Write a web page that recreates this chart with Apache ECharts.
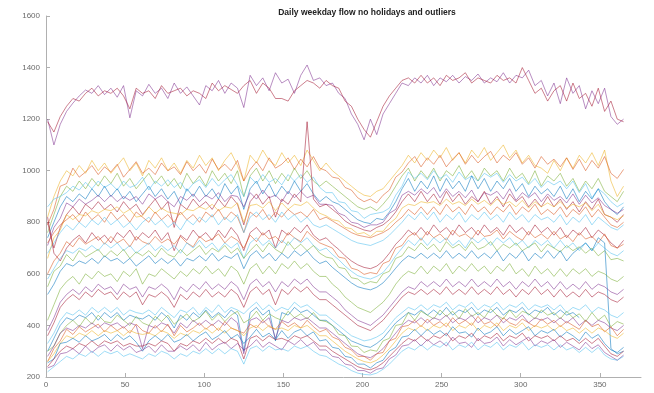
<!DOCTYPE html>
<html>
<head>
<meta charset="utf-8">
<script src="https://cdn.jsdelivr.net/npm/echarts@6/dist/echarts.min.js"></script>
<style>
  html, body { margin: 0; padding: 0; background: #fff; }
  #chart { width: 654px; height: 393px; }
</style>
</head>
<body>
<div id="chart"></div>
<script>
// Day of year for each sample
const days = [1,5,9,13,17,21,25,29,33,37,41,45,49,53,57,61,65,69,73,77,81,85,89,93,97,101,105,109,113,117,121,125,129,133,137,141,145,149,153,157,161,165,169,173,177,181,185,189,193,197,201,205,209,213,217,221,225,229,233,237,241,245,249,253,257,261,265,269,273,277,281,285,289,293,297,301,305,309,313,317,321,325,329,333,337,341,345,349,353,357,361,365];

const xTicks = [0, 50, 100, 150, 200, 250, 300, 350];
const yTicks = [200, 400, 600, 800, 1000, 1200, 1400, 1600];

// Busiest station pair
const topA = [
  1200,1100,1180,1230,1262,1290,1313,1300,1330,1295,
  1320,1285,1330,1205,1310,1290,1335,1300,1320,1280,
  1340,1300,1325,1290,1255,1330,1310,1350,1300,1340,
  1320,1245,1370,1330,1360,1310,1380,1340,1355,1300,
  1370,1410,1350,1360,1330,1340,1300,1280,1220,1180,
  1120,1200,1140,1220,1260,1300,1340,1330,1360,1340,
  1370,1330,1360,1345,1370,1340,1365,1350,1375,1340,
  1360,1345,1380,1340,1370,1360,1390,1330,1350,1290,
  1340,1260,1360,1300,1330,1240,1310,1260,1320,1210,
  1180,1200];
const topB = [
  1190,1150,1210,1250,1280,1270,1300,1320,1290,1310,
  1300,1320,1290,1240,1320,1300,1310,1280,1330,1300,
  1310,1320,1290,1310,1300,1280,1340,1310,1330,1315,
  1300,1330,1350,1300,1340,1320,1280,1280,1270,1310,
  1330,1350,1340,1320,1350,1330,1320,1270,1250,1200,
  1160,1130,1190,1250,1290,1320,1350,1360,1340,1370,
  1340,1360,1330,1370,1350,1360,1380,1340,1360,1350,
  1340,1370,1350,1360,1340,1400,1350,1300,1320,1270,
  1310,1330,1270,1340,1280,1300,1250,1320,1230,1270,
  1200,1190];

// Upper group
const u1 = [
  820,900,960,1000,980,1020,990,1040,1000,1030,
  990,1020,1050,1000,1030,980,1040,1010,1050,1000,
  1030,990,1040,1010,1060,1020,1050,1000,1040,1070,
  1020,960,1060,1030,1080,1040,1020,1070,1030,1060,
  1020,1080,1040,1000,1030,1000,980,960,940,920,
  905,900,920,930,960,990,1020,1060,1030,1070,
  1040,1080,1050,1090,1040,1070,1030,1080,1050,1090,
  1040,1070,1100,1050,1080,1030,1060,1020,1010,990,
  1040,1000,1050,1010,1060,1030,1070,1020,1080,960,
  900,940];
const u2 = [
  790,850,940,950,1010,975,995,1020,985,1015,
  995,1025,975,1005,1035,990,1010,985,1030,1000,
  1015,985,1035,1000,1025,990,1045,1005,1025,1000,
  1040,960,1005,1035,1000,1050,1010,1025,1050,1005,
  1045,1015,1055,1010,1000,975,970,935,925,895,
  880,890,875,905,925,975,995,1030,1055,1015,
  1050,1025,1060,1015,1045,1070,1025,1060,1030,1055,
  1075,1030,1060,1040,1070,1025,1050,1010,1055,1025,
  1045,1015,1050,1005,1045,1000,1040,1010,1055,990,
  970,1005];
const u3 = [
  760,830,900,940,920,960,930,970,940,980,
  950,990,940,970,930,960,990,950,980,940,
  970,930,990,950,980,940,1000,960,990,950,
  1000,900,980,1010,960,1000,950,990,960,1010,
  970,1000,960,940,960,940,920,900,880,860,
  850,860,845,870,900,940,980,1010,960,1000,
  970,1010,960,1000,980,1020,970,1000,960,1010,
  980,1000,960,1010,970,990,950,1000,940,980,
  960,990,940,970,920,960,930,970,920,900,
  880,920];
const u4 = [
  860,890,900,915,940,925,955,930,960,935,
  950,925,960,935,945,975,925,960,940,965,
  935,955,920,950,965,935,970,940,965,985,
  945,900,975,950,985,955,970,945,985,960,
  985,955,975,935,915,915,880,875,845,840,
  815,830,835,840,855,905,940,995,970,990,
  965,1000,970,985,955,995,965,980,960,990,
  975,990,955,985,960,975,945,970,935,960,
  945,960,930,960,915,950,895,930,910,880,
  860,875];
const u5 = [
  740,800,860,900,880,910,890,930,900,940,
  900,930,890,920,880,910,940,900,930,890,
  920,870,930,900,940,900,930,890,950,910,
  940,850,930,960,910,950,900,940,910,960,
  920,950,910,880,900,880,870,850,830,810,
  800,795,815,810,840,880,930,970,920,960,
  930,980,920,970,930,960,920,980,930,970,
  920,960,930,970,920,950,900,940,910,930,
  900,940,890,930,880,920,890,930,880,850,
  830,860];
const u6 = [
  710,780,815,875,860,890,870,885,905,880,
  905,880,900,885,900,870,910,890,905,880,
  860,900,885,910,880,905,890,915,880,905,
  900,860,915,890,925,895,905,880,920,895,
  920,895,905,870,870,865,835,825,800,795,
  780,790,790,800,835,850,905,920,905,930,
  910,935,895,930,900,920,895,925,880,915,
  905,920,890,930,885,915,895,915,880,910,
  885,900,875,910,870,905,875,895,865,850,
  835,850];
const u7 = [
  800,700,780,830,860,830,870,850,880,850,
  870,840,880,850,870,830,860,890,850,880,
  780,870,850,890,860,880,850,890,860,900,
  870,790,880,910,870,900,820,890,870,910,
  880,1190,890,860,870,850,830,805,790,780,
  770,765,780,790,810,840,880,910,880,920,
  880,910,870,920,880,910,870,900,880,920,
  870,900,860,910,880,900,860,890,860,900,
  860,890,850,880,840,880,850,890,830,820,
  800,830];
const u8 = [
  660,740,770,830,810,830,825,845,835,850,
  845,860,835,850,820,825,860,835,855,840,
  835,830,850,845,860,850,870,845,860,855,
  875,800,865,870,855,880,845,875,850,870,
  865,880,855,835,825,810,805,780,775,755,
  760,745,765,765,795,815,855,870,865,880,
  875,880,865,890,870,880,865,890,870,885,
  865,890,870,880,860,885,855,880,860,875,
  860,880,855,870,860,875,845,870,830,820,
  810,825];
const u9 = [
  720,760,790,810,830,800,840,810,830,800,
  840,810,830,800,840,820,800,840,810,830,
  800,840,810,830,800,840,820,850,810,840,
  820,760,840,820,850,810,840,820,850,830,
  840,820,850,810,820,805,790,775,760,750,
  745,740,750,760,775,800,820,850,830,860,
  830,860,830,870,840,860,830,870,840,860,
  830,860,840,870,830,860,840,870,830,850,
  830,860,820,850,830,860,820,850,820,790,
  780,800];
const u10 = [
  680,720,760,790,770,800,780,810,790,820,
  790,810,780,800,770,800,820,790,810,780,
  800,770,810,790,820,800,830,790,820,800,
  830,760,820,840,810,830,800,840,810,830,
  800,820,790,780,790,775,760,745,730,720,
  715,710,720,730,750,775,800,830,810,840,
  810,840,800,830,810,840,800,830,810,840,
  810,830,800,840,810,830,800,830,810,820,
  800,830,790,820,800,830,790,820,800,780,
  770,790];

// Middle group
const m1 = [
  820,680,650,700,730,750,720,760,730,750,
  720,760,740,770,730,760,740,770,730,760,
  690,750,730,770,740,760,730,770,740,780,
  750,690,760,780,750,770,700,770,750,780,
  760,790,750,730,740,715,695,670,650,635,
  625,620,630,650,680,715,740,770,750,780,
  750,790,760,780,750,790,760,780,750,790,
  760,780,750,790,760,780,750,790,760,780,
  750,780,740,770,750,780,740,770,750,720,
  700,730];
const m2 = [
  600,650,680,725,705,740,715,730,745,715,
  745,720,735,705,745,725,715,745,720,735,
  715,745,720,705,745,725,735,755,720,745,
  730,700,750,725,760,735,745,720,760,740,
  725,765,740,720,710,700,665,660,622,615,
  598,605,600,640,650,700,710,745,760,730,
  765,740,755,730,770,745,755,735,770,745,
  750,770,735,765,745,730,765,740,755,735,
  765,735,750,725,760,735,745,720,755,710,
  700,715];
const m3 = [
  580,620,660,690,680,700,690,710,690,720,
  700,720,690,710,680,700,720,690,710,690,
  710,680,720,700,730,700,720,690,720,700,
  720,660,720,740,710,730,700,730,710,740,
  720,740,710,690,700,675,655,630,610,593,
  585,580,590,605,635,670,700,730,710,740,
  710,740,720,740,710,730,700,740,720,740,
  710,740,720,740,710,730,700,730,710,730,
  700,730,700,720,690,720,690,720,700,680,
  670,690];
const m4 = [
  550,610,630,675,650,690,665,680,695,665,
  690,670,695,660,685,670,690,665,700,675,
  665,695,670,690,710,675,700,685,710,680,
  700,660,690,715,685,720,695,680,725,695,
  715,690,710,680,665,660,625,620,585,580,
  560,570,565,600,610,660,670,705,690,720,
  695,715,685,725,700,715,690,725,695,705,
  725,690,715,700,720,690,705,720,685,715,
  700,685,710,690,705,680,700,670,690,655,
  660,650];
const m5 = [
  520,560,610,640,630,650,640,660,640,670,
  650,660,640,660,630,650,670,640,660,640,
  660,630,660,650,670,650,680,650,670,660,
  680,620,670,690,660,680,650,680,660,690,
  670,690,660,640,650,625,605,585,565,550,
  543,538,548,565,592,622,650,670,660,680,
  660,680,660,690,660,680,660,690,660,680,
  660,690,650,680,660,690,650,680,660,690,
  660,690,650,680,700,720,690,740,720,310,
  290,300];

// Lower-middle group
const l1 = [
  420,480,540,570,590,560,600,580,610,590,
  600,570,610,590,620,560,600,590,620,600,
  580,610,590,620,600,630,600,620,590,630,
  610,560,620,640,600,630,600,640,620,650,
  620,640,610,590,590,560,540,510,490,470,
  460,450,470,490,520,560,590,610,600,630,
  600,630,610,640,600,630,610,640,610,630,
  600,630,610,640,600,620,590,630,600,620,
  590,620,590,620,600,620,590,610,600,580,
  570,590];
const l2 = [
  380,430,490,520,540,520,550,530,560,540,
  550,520,560,540,550,510,550,540,560,540,
  500,550,530,560,540,570,540,560,540,570,
  550,500,560,580,550,570,530,570,550,580,
  560,580,550,530,530,510,490,460,440,420,
  410,400,420,440,470,500,530,550,540,570,
  550,570,550,580,550,570,550,580,550,570,
  550,580,550,570,540,570,550,580,550,570,
  540,570,540,560,540,570,540,560,550,530,
  520,540];
const l3 = [
  360,410,470,500,520,500,530,510,540,520,
  530,500,530,510,530,480,520,510,530,510,
  470,520,500,530,510,540,510,530,510,540,
  520,470,530,550,520,540,480,540,520,550,
  530,550,520,500,500,480,460,440,420,400,
  390,380,400,420,450,480,510,530,520,540,
  520,540,520,550,520,540,520,550,520,540,
  520,550,520,540,510,540,520,550,520,540,
  510,540,510,530,510,540,510,530,520,500,
  490,510];

// Lower group
const b1 = [
  330,370,420,450,440,460,440,470,450,470,
  450,470,440,460,450,445,460,440,470,450,
  430,460,450,470,440,470,450,480,450,470,
  460,445,470,490,460,480,455,470,460,490,
  470,480,460,440,440,420,400,380,360,350,
  340,345,355,370,400,430,450,470,460,480,
  460,480,470,490,460,480,470,490,460,480,
  470,490,460,480,470,490,460,480,470,480,
  460,480,450,470,460,480,450,470,460,440,
  430,450];
const b2 = [
  300,350,400,430,420,440,430,450,420,450,
  430,450,420,440,430,425,440,420,450,430,
  390,440,420,450,430,460,430,450,430,460,
  440,300,450,470,440,460,340,450,440,470,
  450,460,440,420,420,400,380,360,340,330,
  320,315,330,350,380,410,430,450,440,460,
  440,460,440,470,440,460,450,470,440,460,
  450,470,440,460,450,470,440,460,450,470,
  440,460,440,450,430,null,null,null,null,null,
  null,null];
const b3 = [
  300,320,370,400,420,395,430,405,440,415,
  410,440,420,400,435,410,400,435,415,440,
  405,425,445,415,430,455,420,445,415,440,
  455,410,425,455,420,445,430,420,455,430,
  445,425,450,420,415,400,365,360,320,318,
  295,305,300,340,350,400,405,450,420,455,
  440,425,460,435,455,425,465,435,450,430,
  465,440,425,460,430,455,445,425,460,440,
  450,425,455,430,445,415,450,420,440,395,
  415,405];
const b4 = [
  280,320,370,390,380,400,390,410,390,410,
  400,410,390,410,400,310,400,390,410,400,
  370,410,390,420,400,420,400,420,400,430,
  410,290,420,430,410,430,350,420,410,430,
  420,430,410,390,390,370,350,330,310,290,
  280,275,290,310,340,370,400,420,410,430,
  410,430,420,440,410,430,420,440,410,430,
  420,440,410,430,420,440,410,430,420,430,
  410,430,410,430,400,420,400,420,410,390,
  380,400];
const b5 = [
  260,310,340,385,365,395,375,390,405,375,
  400,380,395,370,405,380,370,400,375,405,
  360,400,375,390,410,385,405,380,415,390,
  380,370,405,390,420,395,385,415,395,410,
  390,420,395,375,385,355,345,315,305,280,
  280,265,290,295,340,350,395,400,420,395,
  425,400,415,395,430,405,420,400,435,405,
  415,395,430,410,400,425,410,395,425,405,
  420,395,415,400,385,420,395,405,375,395,
  360,385];
const b6 = [
  260,290,330,360,350,370,360,380,360,380,
  370,380,360,380,370,365,370,360,380,370,
  350,370,360,380,370,390,370,390,370,390,
  380,360,390,400,380,400,385,390,380,400,
  390,400,380,360,360,340,320,300,285,270,
  260,255,265,285,310,340,370,390,380,400,
  380,400,390,410,380,400,390,410,380,400,
  390,410,380,400,390,410,380,400,390,400,
  380,400,380,390,370,390,370,390,380,360,
  350,370];
const b7 = [
  255,270,330,335,350,335,360,340,350,365,
  340,365,345,360,335,300,340,360,340,365,
  335,345,365,340,360,375,345,360,380,350,
  365,330,355,385,355,370,345,380,350,375,
  385,360,375,340,345,315,310,280,275,250,
  250,235,255,265,300,315,355,360,385,360,
  385,365,380,360,395,370,375,355,390,365,
  375,395,360,385,365,380,395,360,380,370,
  385,355,375,360,340,375,350,365,330,305,
  295,315];
const b8 = [
  240,270,300,320,310,330,320,340,320,340,
  330,340,320,330,320,320,330,320,340,330,
  300,330,320,340,330,350,330,350,330,350,
  340,270,350,360,340,360,345,350,340,360,
  350,360,340,320,320,300,285,270,255,240,
  232,228,238,255,280,305,330,350,340,360,
  340,360,350,370,340,360,350,370,340,360,
  350,370,340,360,350,370,340,360,350,360,
  340,360,340,350,330,350,330,350,320,290,
  280,300];
const b9 = [
  235,245,290,295,310,290,320,295,315,325,
  300,325,305,320,295,305,320,295,325,300,
  300,320,305,325,300,335,305,325,335,310,
  330,305,320,345,315,335,320,305,340,325,
  345,320,335,305,305,280,275,250,245,225,
  225,215,230,235,270,285,320,325,345,320,
  345,325,340,320,355,330,335,315,350,330,
  335,355,320,345,325,340,355,320,340,330,
  345,315,335,320,305,335,310,325,295,280,
  265,285];
const b10 = [
  220,240,260,280,270,290,280,300,280,300,
  290,300,280,290,280,270,290,280,300,290,
  270,290,280,300,290,310,290,310,290,310,
  300,250,310,320,300,320,305,310,300,320,
  310,320,300,285,280,265,250,240,225,215,
  210,208,215,230,250,275,300,315,305,325,
  305,325,315,335,305,325,315,335,305,325,
  315,335,305,325,315,335,305,325,315,325,
  305,325,305,315,295,315,295,315,285,270,
  265,280];

// MATLAB default line colours
const C = {
  blue: '#0072BD', orange: '#D95319', yellow: '#EDB120', purple: '#7E2F8E',
  green: '#77AC30', cyan: '#4DBEEE', red: '#A2142F'
};

const lines = [
  [topA, C.purple], [topB, C.red],
  [u1, C.yellow], [u2, C.orange], [u3, C.green], [u4, C.cyan], [u5, C.blue],
  [u6, C.purple], [u7, C.red], [u8, C.yellow], [u9, C.orange], [u10, C.cyan],
  [m1, C.red], [m2, C.orange], [m3, C.cyan], [m4, C.green], [m5, C.blue],
  [l1, C.green], [l2, C.purple], [l3, C.red],
  [b1, C.cyan], [b2, C.blue], [b3, C.green], [b4, C.purple], [b5, C.orange],
  [b6, C.yellow], [b7, C.blue], [b8, C.red], [b9, C.purple], [b10, C.cyan]
];

const series = lines.map(([vals, color]) => ({
  type: 'line',
  data: days.map((d, i) => [d, vals[i]]),
  showSymbol: false,
  silent: true,
  animation: false,
  lineStyle: { width: 0.75, color: color, opacity: 0.72 },
  itemStyle: { color: color }
}));

const axisGray = '#b0b0b0';
const labelGray = '#6a6a6a';

const chart = echarts.init(document.getElementById('chart'), null, { renderer: 'canvas' });
chart.setOption({
  backgroundColor: '#ffffff',
  animation: false,
  title: {
    text: 'Daily weekday flow no holidays and outliers',
    left: 367,
    top: 8,
    textAlign: 'center',
    padding: 0,
    textStyle: { fontFamily: 'Liberation Sans, Arial, sans-serif', fontSize: 8.5, fontWeight: 'bold', color: '#222' }
  },
  grid: { left: 46, right: 13, top: 16, bottom: 16, containLabel: false },
  xAxis: {
    type: 'value', min: 0, max: 376, interval: 50,
    axisLine: { show: true, lineStyle: { color: axisGray, width: 1 } },
    axisTick: { show: true, inside: true, length: 4, lineStyle: { color: axisGray } },
    axisLabel: {
      showMaxLabel: false, margin: 4, color: labelGray, fontSize: 8,
      fontFamily: 'Liberation Sans, Arial, sans-serif',
      formatter: v => (xTicks.includes(v) ? String(v) : '')
    },
    splitLine: { show: false }
  },
  yAxis: {
    type: 'value', min: 200, max: 1600, interval: 200,
    axisLine: { show: true, lineStyle: { color: axisGray, width: 1 } },
    axisTick: { show: true, inside: true, length: 4, lineStyle: { color: axisGray } },
    axisLabel: {
      margin: 6, color: labelGray, fontSize: 8,
      fontFamily: 'Liberation Sans, Arial, sans-serif',
      formatter: v => (yTicks.includes(v) ? String(v) : '')
    },
    splitLine: { show: false }
  },
  series: series
});
</script>
</body>
</html>
